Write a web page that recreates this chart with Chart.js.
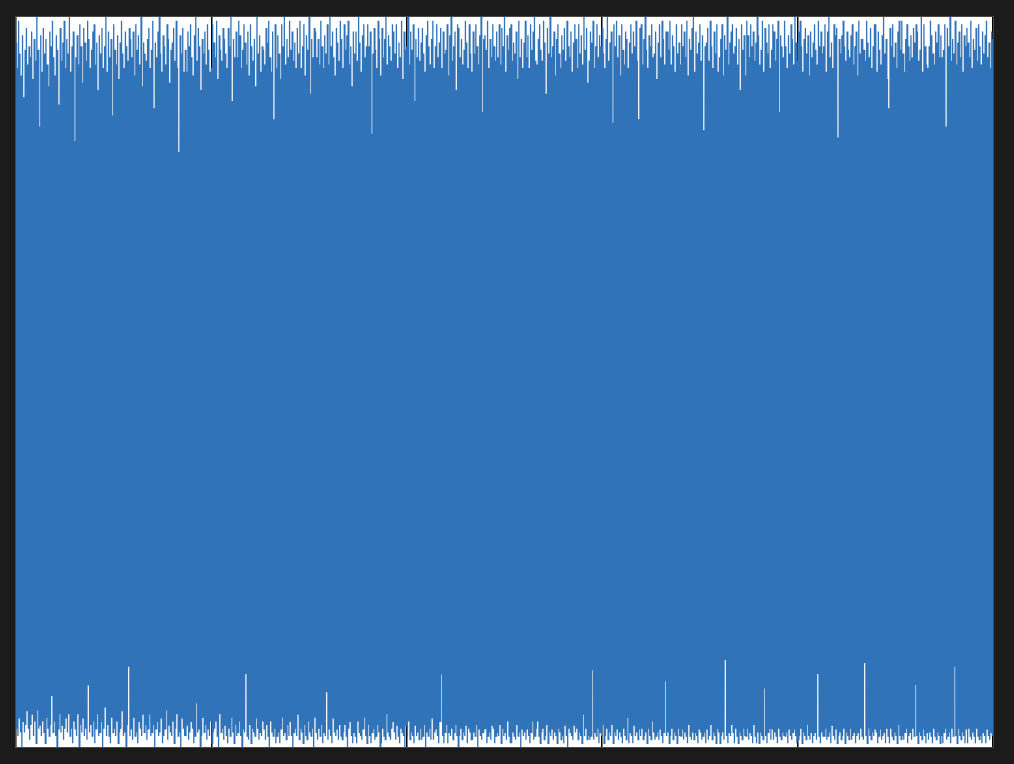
<!DOCTYPE html>
<html>
<head>
<meta charset="utf-8">
<script src="https://cdn.jsdelivr.net/npm/chart.js@4/dist/chart.umd.min.js"></script>
<style>
html,body{margin:0;padding:0;background:#1b1b1b;}
#wrap{width:1014px;height:764px;}
</style>
</head>
<body>
<div id="wrap"><canvas id="c" width="1014" height="764"></canvas></div>
<script>
// Signal samples (read as the alternating peaks/troughs of the trace)
const signalValues = [
93,-95,86,-97,99,-92,90,-96,84,-100,95,-93,78,-96,91,-94,97,-90,87,-95,
92,-98,89,-94,96,-91,83,-97,94,-93,88,-99,100,-90,91,-95,70,-94,95,-97,
85,-93,97,-96,90,-99,94,-92,87,-95,81,-97,96,-94,92,-86,99,-96,89,-93,
84,-97,95,-100,91,-95,76,-91,97,-96,88,-94,93,-98,99,-95,86,-92,94,-96,
90,-91,100,-97,85,-95,92,-99,96,-93,66,-95,89,-97,95,-91,87,-100,98,-94,
92,-96,82,-92,97,-97,93,-95,88,-98,99,-83,94,-96,86,-94,91,-97,96,-93,
98,-99,87,-95,93,-91,80,-97,95,-96,90,-93,97,-100,86,-95,92,-89,100,-97,
85,-94,96,-97,89,-99,94,-92,73,-96,98,-95,91,-97,87,-93,95,-99,83,-96,
93,-95,99,-90,90,-97,86,-96,96,-100,92,-94,88,-78,97,-97,94,-95,89,-98,
96,-92,84,-97,98,-96,91,-99,95,-93,87,-95,100,-97,81,-91,93,-96,90,-94,
88,-98,94,-95,97,-91,86,-97,91,-96,99,-94,75,-100,93,-95,89,-93,96,-97,
100,-96,90,-92,85,-99,95,-97,92,-95,87,-90,98,-98,94,-94,82,-96,91,-97,
93,-93,97,-99,88,-95,99,-91,86,-97,63,-96,95,-100,90,-92,97,-95,85,-97,
91,-97,85,-94,96,-98,92,-96,98,-93,89,-95,84,-99,95,-97,100,-88,88,-96,
97,-95,92,-100,80,-97,94,-92,90,-96,96,-94,87,-98,98,-95,91,-97,85,-93,
86,-99,98,-96,93,-95,89,-93,99,-97,83,-100,95,-91,91,-96,88,-95,97,-98,
94,-94,90,-97,86,-99,97,-95,92,-97,100,-92,77,-96,94,-99,89,-94,96,-97,
89,-96,99,-93,95,-97,86,-100,91,-95,98,-96,93,-80,87,-97,96,-98,84,-94,
98,-99,92,-95,88,-96,94,-97,81,-92,100,-95,90,-98,95,-96,85,-97,92,-93,
91,-95,87,-98,97,-94,93,-97,99,-100,89,-93,85,-96,96,-97,72,-95,98,-99,
86,-97,95,-96,90,-99,83,-95,98,-92,92,-97,100,-96,87,-98,94,-94,89,-97,
99,-93,91,-97,96,-100,88,-96,93,-95,86,-97,97,-91,90,-98,99,-95,86,-96,
92,-99,98,-94,84,-97,95,-98,91,-93,100,-96,79,-97,94,-95,89,-100,97,-92,
96,-96,89,-98,94,-95,87,-97,99,-94,92,-99,86,-96,95,-97,90,-85,98,-98,
87,-95,100,-97,92,-99,96,-92,89,-96,84,-97,97,-95,93,-98,88,-94,99,-97,
94,-98,86,-96,98,-94,91,-97,95,-100,99,-95,87,-93,92,-97,81,-99,96,-96,
90,-97,96,-99,88,-93,100,-96,93,-97,85,-98,95,-95,98,-92,89,-97,92,-99,
98,-94,92,-97,96,-99,68,-96,90,-95,97,-98,91,-97,86,-94,99,-96,94,-100,
84,-99,97,-95,89,-97,94,-98,100,-91,87,-96,95,-97,92,-98,88,-95,98,-93,
96,-96,90,-98,98,-94,86,-97,93,-99,89,-95,99,-96,83,-97,96,-100,91,-94,
92,-97,100,-93,87,-98,96,-96,91,-97,98,-99,77,-94,94,-97,89,-96,97,-98,
88,-95,93,-98,97,-97,90,-94,85,-100,95,-96,99,-97,92,-95,87,-98,94,-92,
99,-98,86,-96,92,-95,98,-97,89,-99,93,-93,97,-80,86,-97,96,-99,90,-96,
91,-94,98,-99,84,-96,95,-97,100,-95,88,-98,92,-96,96,-94,80,-97,98,-100,
97,-97,89,-95,94,-98,87,-96,91,-97,99,-94,93,-99,86,-95,98,-96,90,-98,
85,-98,96,-96,90,-97,98,-94,92,-100,87,-95,95,-97,100,-98,74,-96,94,-95,
95,-95,91,-99,99,-97,86,-96,94,-98,89,-94,98,-95,92,-99,88,-97,96,-96,
89,-97,98,-94,87,-99,97,-95,92,-97,100,-96,85,-98,95,-93,91,-97,97,-99,
98,-99,88,-96,93,-97,90,-98,96,-94,83,-97,99,-96,89,-100,94,-95,86,-97,
93,-96,99,-98,89,-95,95,-97,86,-99,98,-96,91,-93,96,-98,100,-97,88,-95,
87,-93,94,-97,98,-99,91,-96,88,-95,99,-98,93,-97,79,-94,97,-99,90,-96,
100,-97,89,-95,92,-98,96,-96,84,-97,94,-99,98,-95,90,-96,86,-98,95,-97,
91,-99,97,-94,88,-97,99,-100,92,-95,89,-96,96,-97,85,-98,93,-94,98,-96,
94,-95,86,-98,98,-96,90,-97,95,-99,87,-91,100,-97,91,-95,97,-98,82,-97,
88,-98,96,-97,93,-79,99,-98,86,-96,92,-97,98,-95,89,-99,95,-96,92,-97,
97,-94,90,-99,86,-97,94,-95,100,-98,88,-96,93,-97,96,-94,71,-99,98,-96,
92,-97,99,-95,89,-98,95,-96,84,-97,98,-99,91,-95,87,-97,96,-98,94,-92,
86,-99,93,-96,98,-97,90,-99,96,-94,92,-97,99,-96,88,-98,72,-95,97,-97,
98,-95,87,-98,94,-97,100,-96,91,-99,86,-95,95,-97,92,-98,98,-93,89,-96,
90,-98,96,-97,83,-96,93,-98,98,-95,89,-97,99,-99,94,-96,87,-82,96,-97,
96,-96,91,-99,99,-97,87,-95,95,-98,92,-96,85,-97,98,-99,90,-95,93,-97,
87,-97,98,-95,92,-98,96,-96,89,-97,99,-99,84,-94,94,-97,91,-98,97,-96,
100,-98,85,-96,96,-97,90,-99,93,-95,98,-96,88,-98,95,-97,69,-96,92,-99,
93,-95,97,-98,88,-97,99,-94,92,-98,86,-96,96,-97,90,-99,98,-95,85,-96,
89,-99,94,-97,98,-96,84,-98,95,-76,91,-97,100,-99,87,-96,93,-97,96,-94,
98,-96,90,-99,92,-95,97,-97,87,-99,94,-96,80,-97,98,-98,91,-95,95,-97,
84,-97,99,-95,95,-98,89,-96,98,-97,92,-99,96,-94,88,-97,93,-99,100,-96,
95,-99,87,-96,91,-97,99,-98,85,-84,97,-97,93,-99,90,-96,98,-95,86,-98,
91,-95,98,-98,96,-96,88,-97,94,-99,99,-95,74,-97,95,-98,92,-96,89,-97,
99,-97,92,-96,86,-99,95,-95,90,-97,98,-98,94,-96,87,-95,100,-97,93,-99,
88,-98,96,-97,99,-95,92,-99,85,-96,94,-97,97,-98,90,-94,95,-97,84,-98,
96,-96,89,-99,93,-97,98,-96,91,-98,87,-80,99,-97,92,-99,96,-96,90,-97,
92,-97,98,-95,85,-98,96,-97,100,-96,89,-99,93,-94,86,-97,98,-98,95,-95,
97,-99,67,-97,94,-96,90,-98,95,-97,99,-95,92,-99,88,-96,96,-97,91,-98,
89,-95,95,-98,98,-97,87,-96,92,-99,96,-97,84,-96,99,-98,90,-95,94,-97,
94,-98,91,-77,88,-97,99,-99,93,-95,89,-97,97,-98,86,-96,92,-97,98,-95,
98,-96,85,-99,96,-97,91,-95,87,-98,95,-97,100,-96,90,-99,94,-95,83,-97,
75,-99,97,-95,92,-97,98,-98,89,-96,93,-97,86,-99,96,-94,99,-97,91,-98,
99,-97,90,-98,85,-96,94,-95,98,-99,92,-97,88,-96,95,-98,89,-95,97,-97,
93,-83,98,-97,96,-99,88,-96,91,-97,100,-98,85,-95,98,-97,92,-99,87,-96,
86,-98,92,-96,99,-97,95,-99,90,-95,87,-97,96,-98,93,-96,98,-97,89,-99,
95,-97,89,-99,91,-96,98,-95,70,-98,97,-97,92,-96,100,-99,88,-95,94,-97,
90,-78,99,-97,87,-99,93,-95,96,-97,89,-98,98,-96,85,-97,95,-99,92,-95,
97,-99,93,-95,89,-97,99,-98,86,-96,94,-97,91,-99,97,-95,88,-97,98,-98,
92,-97,87,-99,96,-96,90,-97,95,-99,99,-95,89,-97,93,-98,86,-96,96,-97,
94
];

// Axis tick positions along the sample index (no labels shown in the reference)
const xTickStep = 300;
const yMin = -100;
const yMax = 100;

const points = signalValues.map((v, i) => ({ x: i, y: v }));

const plotBackground = {
  id: 'plotBackground',
  beforeDraw(chart) {
    const a = chart.chartArea;
    const ctx = chart.ctx;
    ctx.save();
    ctx.fillStyle = '#ffffff';
    ctx.fillRect(a.left, a.top, a.right - a.left, a.bottom - a.top);
    ctx.restore();
  },
  afterDraw(chart) {
    const a = chart.chartArea;
    const ctx = chart.ctx;
    ctx.save();
    ctx.strokeStyle = '#4a4a4a';
    ctx.lineWidth = 1;
    ctx.strokeRect(a.left - 0.5, a.top - 0.5, a.right - a.left + 1, a.bottom - a.top + 1);
    ctx.restore();
  }
};

new Chart(document.getElementById('c'), {
  type: 'line',
  data: {
    datasets: [{
      data: points,
      borderColor: '#3073b8',
      borderWidth: 1.3,
      pointRadius: 0,
      tension: 0,
      fill: false
    }]
  },
  options: {
    responsive: false,
    animation: false,
    events: [],
    layout: { padding: { left: 16, top: 17, right: 21, bottom: 17 } },
    plugins: { legend: { display: false }, tooltip: { enabled: false } },
    scales: {
      x: {
        type: 'linear',
        min: 0,
        max: signalValues.length - 1,
        ticks: { display: false, stepSize: xTickStep },
        grid: { color: '#000000', lineWidth: 1.5, drawTicks: false },
        border: { display: false }
      },
      y: {
        min: yMin,
        max: yMax,
        ticks: { display: false },
        grid: { display: false, drawTicks: false },
        border: { display: false }
      }
    }
  },
  plugins: [plotBackground]
});
</script>
</body>
</html>
